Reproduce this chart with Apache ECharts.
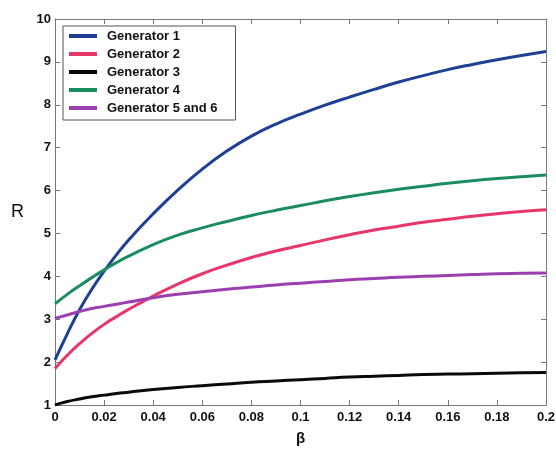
<!DOCTYPE html>
<html>
<head>
<meta charset="utf-8">
<script src="https://cdn.jsdelivr.net/npm/echarts@6/dist/echarts.min.js"></script>
<style>
  html, body { margin: 0; padding: 0; background: #fff; }
  #chart { width: 556px; height: 449px; }
</style>
</head>
<body>
<div id="chart"></div>
<script>
// β sample points along the horizontal axis
const beta = [0, 0.005, 0.01, 0.015, 0.02, 0.025, 0.03, 0.04, 0.05, 0.06, 0.07,
  0.08, 0.09, 0.10, 0.11, 0.12, 0.13, 0.14, 0.15, 0.16, 0.17, 0.18, 0.19, 0.20];

// R for each generator at the β points above
const gen1 = [2.05, 2.66, 3.22, 3.70, 4.12, 4.50, 4.85, 5.46, 6.01, 6.50, 6.92,
  7.27, 7.55, 7.78, 7.99, 8.18, 8.36, 8.53, 8.68, 8.82, 8.94, 9.05, 9.15, 9.24];
const gen2 = [1.85, 2.16, 2.43, 2.67, 2.88, 3.06, 3.23, 3.54, 3.82, 4.06, 4.26,
  4.44, 4.59, 4.72, 4.85, 4.97, 5.08, 5.17, 5.26, 5.33, 5.40, 5.46, 5.51, 5.55];
const gen3 = [1.00, 1.08, 1.14, 1.19, 1.23, 1.27, 1.30, 1.36, 1.41, 1.45, 1.49,
  1.53, 1.56, 1.59, 1.62, 1.65, 1.67, 1.69, 1.71, 1.72, 1.73, 1.74, 1.75, 1.76];
const gen4 = [3.36, 3.58, 3.78, 3.97, 4.15, 4.32, 4.47, 4.74, 4.96, 5.13, 5.28,
  5.42, 5.54, 5.65, 5.76, 5.86, 5.95, 6.03, 6.10, 6.17, 6.23, 6.28, 6.32, 6.36];
const gen56 = [3.02, 3.10, 3.18, 3.25, 3.30, 3.35, 3.40, 3.50, 3.58, 3.64, 3.70,
  3.75, 3.80, 3.84, 3.88, 3.92, 3.95, 3.98, 4.00, 4.02, 4.04, 4.06, 4.07, 4.08];

const seriesNames = ['Generator 1', 'Generator 2', 'Generator 3', 'Generator 4', 'Generator 5 and 6'];
const seriesValues = [gen1, gen2, gen3, gen4, gen56];
const seriesColors = ['#1d3f94', '#e8356a', '#0a0a0a', '#1b8c60', '#9c3fae'];

const xTickLabels = ['0', '0.02', '0.04', '0.06', '0.08', '0.1', '0.12', '0.14', '0.16', '0.18', '0.2'];

const frameColor = '#777';
const fontFamily = 'Liberation Sans, Arial, sans-serif';
const labelFont = { fontFamily: fontFamily, fontWeight: 'bold', fontSize: 13, color: '#111' };

const chart = echarts.init(document.getElementById('chart'), null, { renderer: 'canvas' });

// shared look of the four frame axes (ticks pointing into the plot)
const boxAxis = (extra) => Object.assign({
  type: 'value',
  axisLine: { show: true, onZero: false, lineStyle: { color: frameColor, width: 1 } },
  axisTick: { show: true, inside: true, length: 5, lineStyle: { color: frameColor } },
  splitLine: { show: false },
}, extra);

chart.setOption({
  animation: false,
  backgroundColor: '#fff',
  grid: { left: 55, right: 10, top: 19, bottom: 44, outerBoundsMode: 'none', containLabel: false },
  legend: {
    orient: 'vertical',
    left: 63,
    top: 26,
    padding: [3, 18, 5, 6],
    itemWidth: 28,
    itemHeight: 4,
    itemGap: 4,
    backgroundColor: '#fff',
    borderColor: '#555',
    borderWidth: 1,
    borderRadius: 0,
    textStyle: Object.assign({}, labelFont, { fontSize: 13, lineHeight: 14, padding: [0, 0, 0, 5] }),
    data: seriesNames.map((n) => ({ name: n, icon: 'rect' })),
  },
  xAxis: [
    boxAxis({
      min: 0, max: 0.2, interval: 0.02,
      position: 'bottom',
      name: 'β',
      nameLocation: 'middle',
      nameGap: 26,
      nameTextStyle: { fontFamily: fontFamily, fontWeight: 'bold', fontSize: 15, color: '#111' },
      axisLabel: Object.assign({}, labelFont, {
        margin: 6,
        formatter: (v) => xTickLabels[Math.round(v / 0.02)],
      }),
    }),
    boxAxis({
      min: 0, max: 0.2, interval: 0.02,
      position: 'top',
      axisLabel: { show: false },
    }),
  ],
  yAxis: [
    boxAxis({
      min: 1, max: 10, interval: 1,
      position: 'left',
      name: 'R',
      nameLocation: 'middle',
      nameGap: 31,
      nameRotate: 0,
      nameTextStyle: { fontFamily: fontFamily, fontSize: 18, color: '#111' },
      axisLabel: Object.assign({}, labelFont, { margin: 4 }),
    }),
    boxAxis({
      min: 1, max: 10, interval: 1,
      position: 'right',
      axisLabel: { show: false },
    }),
  ],
  series: seriesNames.map((name, i) => ({
    name: name,
    type: 'line',
    smooth: 0.5,
    symbol: 'none',
    xAxisIndex: 0,
    yAxisIndex: 0,
    color: seriesColors[i],
    lineStyle: { width: 3, color: seriesColors[i] },
    data: beta.map((b, k) => [b, seriesValues[i][k]]),
  })),
});
</script>
</body>
</html>
